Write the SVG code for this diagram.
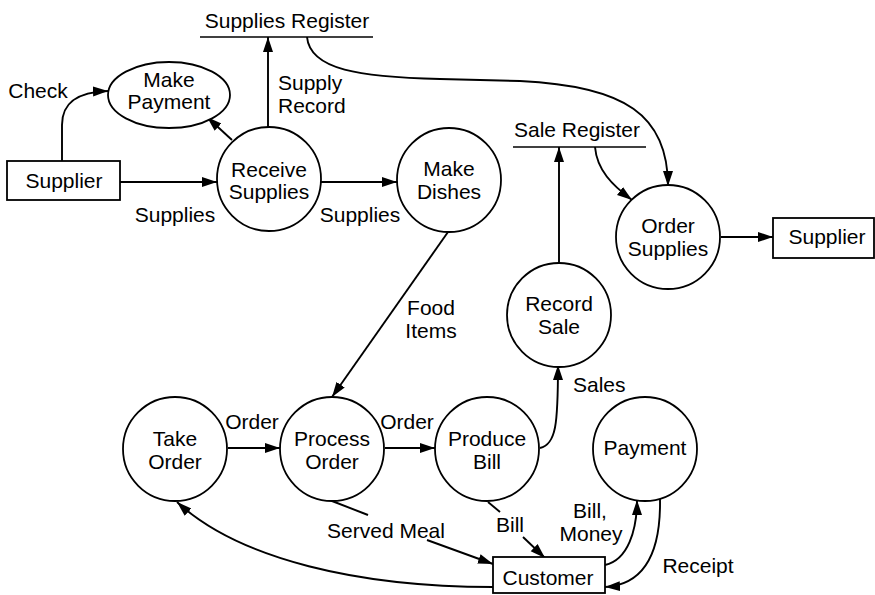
<svg xmlns="http://www.w3.org/2000/svg" width="875" height="595" viewBox="0 0 875 595">
<defs>
<marker id="ah" markerUnits="userSpaceOnUse" markerWidth="16" markerHeight="12" viewBox="0 0 16 10" refX="15" refY="5" orient="auto">
<path d="M0,0 L15,5 L0,10 z" fill="#000"/>
</marker>
<style>
text{font-family:"Liberation Sans",Arial,sans-serif;font-size:21px;fill:#000}
.c{text-anchor:middle}
.n{fill:#fff;stroke:#000;stroke-width:1.8}
.e{fill:none;stroke:#000;stroke-width:1.9}
.a{marker-end:url(#ah)}
.st{stroke:#000;stroke-width:1.6}
</style>
</defs>
<rect width="875" height="595" fill="#fff"/>
<g id="connectors">
<path class="e a" d="M62,161 L62,125 C62,102 78,92 108,91"/>
<path class="e a" d="M120,182 L217,182"/>
<path class="e a" d="M232,140 L207,117"/>
<path class="e a" d="M268,128 L268,37"/>
<path class="e a" d="M321,182 L397,182"/>
<path class="e a" d="M307,37 C310,70 360,77 440,79 L520,81 C625,86 668,115 668,186"/>
<path class="e a" d="M448,232 L332,397"/>
<path class="e a" d="M595,147 C597,170 612,185 632,200"/>
<path class="e a" d="M559,263 L559,147"/>
<path class="e a" d="M721,237 L773,237"/>
<path class="e a" d="M228,448 L280,448"/>
<path class="e a" d="M385,448 L435,448"/>
<path class="e a" d="M540,448 C556,444 558,425 558,365"/>
<path class="e" d="M332,501 L368,515"/>
<path class="e a" d="M427,540 L493,564"/>
<path class="e" d="M488,502 L500,512"/>
<path class="e a" d="M523,537 L545,558"/>
<path class="e a" d="M493,587 C360,587 240,560 177,502"/>
<path class="e a" d="M605,565 C628,560 637,530 637,500"/>
<path class="e a" d="M660,499 C661,560 640,585 605,587"/>
</g>
<g id="supplies-register">
<line class="st" x1="200" y1="37" x2="373" y2="37"/>
<text class="c" x="287" y="28">Supplies Register</text>
</g>
<g id="sale-register">
<line class="st" x1="513" y1="147" x2="646" y2="147"/>
<text class="c" x="577" y="137">Sale Register</text>
</g>
<g id="supplier-left">
<rect class="n" x="7" y="161" width="113" height="39"/>
<text class="c" x="64" y="188">Supplier</text>
</g>
<g id="supplier-right">
<rect class="n" x="773" y="218" width="101" height="40"/>
<text class="c" x="827" y="244">Supplier</text>
</g>
<g id="customer">
<rect class="n" x="493" y="557" width="112" height="36"/>
<text class="c" x="548" y="585">Customer</text>
</g>
<g id="make-payment">
<ellipse class="n" cx="169" cy="95" rx="61" ry="33"/>
<text class="c" x="169" y="87">Make</text>
<text class="c" x="169" y="109">Payment</text>
</g>
<g id="receive-supplies">
<circle class="n" cx="269" cy="179" r="52"/>
<text class="c" x="269" y="177">Receive</text>
<text class="c" x="269" y="199">Supplies</text>
</g>
<g id="make-dishes">
<circle class="n" cx="449" cy="180" r="52"/>
<text class="c" x="449" y="176">Make</text>
<text class="c" x="449" y="199">Dishes</text>
</g>
<g id="order-supplies">
<circle class="n" cx="668" cy="237" r="52"/>
<text class="c" x="668" y="233">Order</text>
<text class="c" x="668" y="256">Supplies</text>
</g>
<g id="record-sale">
<circle class="n" cx="559" cy="315" r="52"/>
<text class="c" x="559" y="311">Record</text>
<text class="c" x="559" y="334">Sale</text>
</g>
<g id="take-order">
<circle class="n" cx="175" cy="449" r="52"/>
<text class="c" x="175" y="446">Take</text>
<text class="c" x="175" y="469">Order</text>
</g>
<g id="process-order">
<circle class="n" cx="332" cy="449" r="52"/>
<text class="c" x="332" y="446">Process</text>
<text class="c" x="332" y="469">Order</text>
</g>
<g id="produce-bill">
<circle class="n" cx="487" cy="449" r="52"/>
<text class="c" x="487" y="446">Produce</text>
<text class="c" x="487" y="469">Bill</text>
</g>
<g id="payment">
<circle class="n" cx="645" cy="449" r="52"/>
<text class="c" x="645" y="455">Payment</text>
</g>
<g id="labels">
<text class="c" x="38" y="98">Check</text>
<text x="278" y="90">Supply</text>
<text x="278" y="113">Record</text>
<text class="c" x="175" y="222">Supplies</text>
<text class="c" x="360" y="222">Supplies</text>
<text class="c" x="431" y="315">Food</text>
<text class="c" x="431" y="338">Items</text>
<text x="573" y="392">Sales</text>
<text class="c" x="252" y="429">Order</text>
<text class="c" x="407" y="429">Order</text>
<text class="c" x="386" y="538">Served Meal</text>
<text class="c" x="510" y="532">Bill</text>
<text class="c" x="590" y="518">Bill,</text>
<text class="c" x="591" y="541">Money</text>
<text class="c" x="698" y="573">Receipt</text>
</g>
</svg>
